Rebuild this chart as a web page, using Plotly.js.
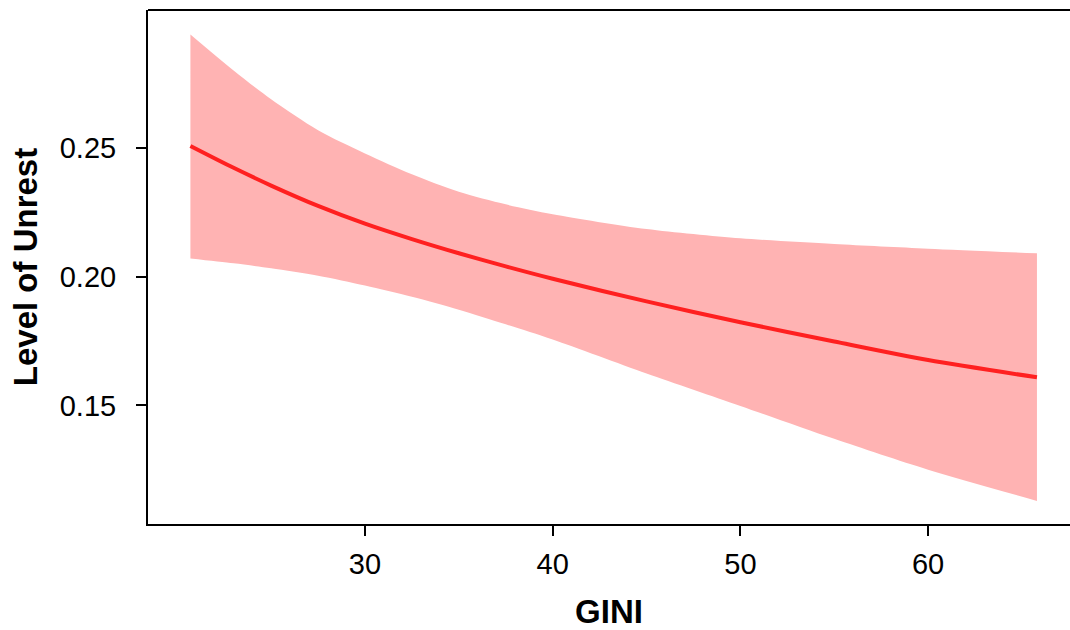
<!DOCTYPE html>
<html>
<head>
<meta charset="utf-8">
<script src="https://cdn.plot.ly/plotly-3.0.1.min.js"></script>
<style>html,body{margin:0;padding:0;background:#fff}#chart{width:1070px;height:630px}</style>
</head>
<body>
<div id="chart"></div>
<script>
// GINI values (x)
const gini = [20.7, 23, 25, 27.5, 30, 32.5, 35, 37.5, 40, 45, 50, 55, 60, 65.8];
// Predicted level of unrest
const fitted = [0.2508, 0.2423, 0.2354, 0.2275, 0.2206, 0.2146, 0.2091, 0.2040, 0.1992, 0.1904, 0.1823, 0.1748, 0.1676, 0.1609];
// Upper confidence bound
const upper = [0.2941, 0.2801, 0.2689, 0.2569, 0.2479, 0.2398, 0.2330, 0.2281, 0.2243, 0.2185, 0.2149, 0.2127, 0.2109, 0.2091];
// Lower confidence bound
const lower = [0.2071, 0.2052, 0.2033, 0.2004, 0.1966, 0.1922, 0.1872, 0.1815, 0.1756, 0.1624, 0.1498, 0.1370, 0.1250, 0.1129];
// Tick labels
const xTicks = [30, 40, 50, 60];
const yTicks = [0.15, 0.20, 0.25];
const yTickText = ["0.15", "0.20", "0.25"];

const band = '#FFB3B3';
const traces = [
  {
    x: gini, y: lower, type: 'scatter', mode: 'lines',
    line: {width: 0, color: band, shape: 'spline', smoothing: 0.8},
    hoverinfo: 'skip', showlegend: false
  },
  {
    x: gini, y: upper, type: 'scatter', mode: 'lines',
    fill: 'tonexty', fillcolor: band,
    line: {width: 0, color: band, shape: 'spline', smoothing: 0.8},
    hoverinfo: 'skip', showlegend: false
  },
  {
    x: gini, y: fitted, type: 'scatter', mode: 'lines',
    line: {color: '#FF2020', width: 4, shape: 'spline', smoothing: 0.8},
    showlegend: false
  }
];

const fam = 'Liberation Sans, Arial, sans-serif';

const layout = {
  width: 1070, height: 630,
  margin: {l: 148, r: 0, t: 10, b: 106},
  paper_bgcolor: '#fff', plot_bgcolor: '#fff',
  showlegend: false,
  font: {family: fam, color: '#000'},
  xaxis: {
    range: [18.44, 67.56], showgrid: false, zeroline: false,
    showline: true, linecolor: '#000', linewidth: 2,
    ticks: 'outside', ticklen: 10, tickwidth: 2, tickcolor: '#000',
    tickmode: 'array', tickvals: xTicks,
    ticklabelstandoff: 3,
    tickfont: {size: 29, family: fam, color: '#000'},
    title: {text: '<b>GINI</b>', font: {size: 33, family: fam, color: '#000'}},
    automargin: false
  },
  yaxis: {
    range: [0.10392, 0.30361], showgrid: false, zeroline: false,
    showline: true, linecolor: '#000', linewidth: 2,
    ticks: 'outside', ticklen: 10, tickwidth: 2, tickcolor: '#000',
    tickmode: 'array', tickvals: yTicks, ticktext: yTickText,
    ticklabelstandoff: 14,
    tickfont: {size: 29, family: fam, color: '#000'},
    title: {text: '<b>Level of Unrest</b>', font: {size: 33, family: fam, color: '#000'}, standoff: 12},
    automargin: false
  },
  shapes: [
    {type: 'line', xref: 'paper', yref: 'paper', x0: 0, x1: 1, y0: 1, y1: 1,
     line: {color: '#000', width: 2}}
  ]
};

Plotly.newPlot('chart', traces, layout, {displayModeBar: false, staticPlot: true});
</script>
</body>
</html>
